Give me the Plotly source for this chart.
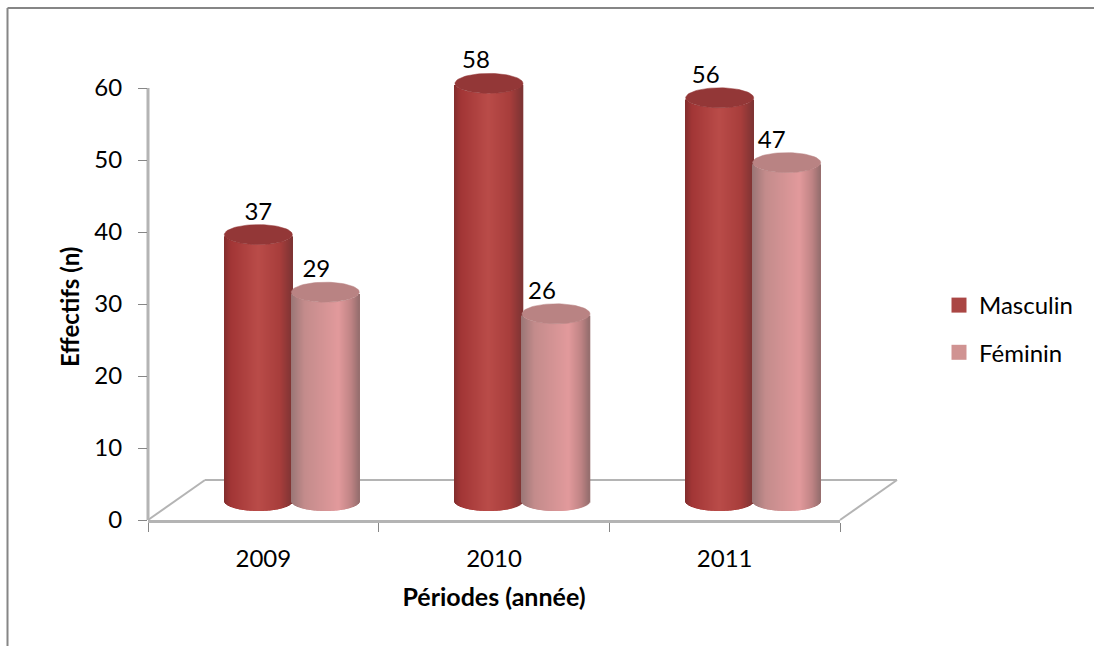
import numpy as np
import plotly.graph_objects as go

# Headcount per year and sex
years = [2009, 2010, 2011]
masculin = [37, 58, 56]
feminin = [29, 26, 47]
y_ticks = [0, 10, 20, 30, 40, 50, 60]

WIDTH, HEIGHT = 1094, 646
LEFT, RIGHT, AXIS_TOP, BOTTOM = 148, 840, 88, 520
Y_MAX = 70                         # room above the last tick for tall cylinders and labels
PX_X = (RIGHT - LEFT) / 3          # pixels per year
PX_Y = (BOTTOM - AXIS_TOP) / 60    # pixels per headcount unit
PLOT_TOP = BOTTOM - Y_MAX * PX_Y
FONT = "Lato"

# Floor depth of the 3D box, and cylinder geometry, in axis units
DEPTH_X = 57 / PX_X
DEPTH_Y = 40 / PX_Y
RX = 34 / PX_X
RY = 10 / PX_Y
BASE = 19 / PX_Y
SHIFT = 33.5 / PX_X
N_STRIPS = 68

# Horizontal shading across a cylinder: (position, rgb)
SHADE_M = [(0, (130, 46, 46)), (0.1, (162, 54, 54)), (0.5, (186, 76, 73)),
           (0.82, (168, 62, 60)), (1, (126, 52, 52))]
SHADE_F = [(0, (154, 118, 118)), (0.2, (196, 140, 140)), (0.7, (226, 154, 156)),
           (0.88, (192, 132, 133)), (1, (150, 110, 110))]
TOP_M, TOP_F = "#933737", "#b98383"


def shade(stops, t):
    pos = [s[0] for s in stops]
    rgb = [int(np.interp(t, pos, [s[1][i] for s in stops])) for i in range(3)]
    return f"rgb({rgb[0]},{rgb[1]},{rgb[2]})"


def cylinder_bars(name, values, dx, stops):
    """One bar per vertical strip; the strip base follows the front of the ellipse."""
    xs, ys, bases, colors = [], [], [], []
    for year, v in zip(years, values):
        for k in range(N_STRIPS):
            t = (k + 0.5) / N_STRIPS
            xs.append(year + DEPTH_X / 2 + dx + RX * (2 * t - 1))
            ys.append(v)
            bases.append(BASE - RY * np.sqrt(1 - (2 * t - 1) ** 2))
            colors.append(shade(stops, t))
    return go.Bar(x=xs, y=ys, base=bases, width=1.6 * 2 * RX / N_STRIPS, name=name,
                  marker=dict(color=colors, line=dict(width=0)),
                  showlegend=False, hoverinfo="skip")


def cylinder_top(year, v, dx, color):
    a = np.linspace(0, 2 * np.pi, 73)
    cx = year + DEPTH_X / 2 + dx
    return go.Scatter(x=cx + RX * np.cos(a), y=BASE + v + RY * np.sin(a), mode="lines",
                      fill="toself", fillcolor=color, line=dict(color=color, width=0.5),
                      showlegend=False, hoverinfo="skip")


fig = go.Figure()
fig.add_trace(cylinder_bars("Masculin", masculin, -SHIFT, SHADE_M))
fig.add_trace(cylinder_bars("Féminin", feminin, SHIFT, SHADE_F))
for year, m, f in zip(years, masculin, feminin):
    fig.add_trace(cylinder_top(year, m, -SHIFT, TOP_M))
    fig.add_trace(cylinder_top(year, f, SHIFT, TOP_F))

# Value labels sit above each cylinder, nudged left in pixels
label_nudge_m = [0, -13, -14]
label_nudge_f = [-9, -14, -15]
for values, dx, nudge in ((masculin, -SHIFT, label_nudge_m), (feminin, SHIFT, label_nudge_f)):
    fig.add_trace(go.Scatter(
        x=[yr + DEPTH_X / 2 + dx + n / PX_X for yr, n in zip(years, nudge)],
        y=[BASE + v + 21 / PX_Y for v in values],
        text=[str(v) for v in values], mode="text",
        textfont=dict(family=FONT, size=24, color="#000000"),
        showlegend=False, hoverinfo="skip"))

# Legend entries
fig.add_trace(go.Scatter(x=[None], y=[None], mode="markers", name="Masculin", legendgroup="m",
                         marker=dict(symbol="square", size=15, color="#AA4644")))
fig.add_trace(go.Scatter(x=[None], y=[None], mode="markers", name="Féminin", legendgroup="f",
                         marker=dict(symbol="square", size=15, color="#D09392")))


def px_x(p):
    return (p - LEFT) / (RIGHT - LEFT)


def px_y(p):
    return (BOTTOM - p) / (BOTTOM - PLOT_TOP)


# Floor outline, value axis and chart frame, in paper coordinates so they can leave the plot area
GRID = "#b4b4b4"
FRAME = "#868686"
BACK_Y = BOTTOM - 40
floor = [
    (LEFT, BOTTOM, LEFT + 57, BACK_Y),
    (LEFT + 57, BACK_Y, RIGHT + 57, BACK_Y),
    (RIGHT, BOTTOM, RIGHT + 57, BACK_Y),
]
shapes = [dict(type="line", xref="paper", yref="paper", layer="below",
               x0=px_x(a), y0=px_y(b), x1=px_x(c), y1=px_y(d), line=dict(color=GRID, width=2))
          for a, b, c, d in floor]
shapes.append(dict(type="line", xref="paper", yref="paper", layer="below",
                   x0=px_x(LEFT), x1=px_x(LEFT), y0=px_y(AXIS_TOP), y1=px_y(BOTTOM),
                   line=dict(color=GRID, width=3)))
shapes.append(dict(type="line", xref="paper", yref="paper", x0=px_x(7.5), x1=px_x(WIDTH),
                   y0=px_y(8), y1=px_y(8), line=dict(color=FRAME, width=2)))
shapes.append(dict(type="line", xref="paper", yref="paper", x0=px_x(7.5), x1=px_x(7.5),
                   y0=px_y(8), y1=px_y(HEIGHT), line=dict(color=FRAME, width=2)))

fig.update_layout(
    width=WIDTH, height=HEIGHT, autosize=False,
    margin=dict(l=LEFT, r=WIDTH - RIGHT, t=PLOT_TOP, b=HEIGHT - BOTTOM),
    paper_bgcolor="#ffffff", plot_bgcolor="rgba(0,0,0,0)",
    barmode="overlay", shapes=shapes,
    font=dict(family=FONT, size=24, color="#000000"),
    xaxis=dict(
        range=[years[0] - 0.5, years[-1] + 0.5], tickvals=years, ticktext=[str(y) for y in years],
        ticks="", showgrid=False, zeroline=False, showline=True, linecolor=GRID, linewidth=3,
        ticklabelstandoff=15,
        minor=dict(tickvals=[y - 0.5 for y in years] + [years[-1] + 0.5], ticks="outside",
                   ticklen=9, tickcolor=FRAME, tickwidth=1, showgrid=False),
        title=dict(text="<b>Périodes (année)</b>", standoff=18, font=dict(family=FONT, size=25)),
    ),
    yaxis=dict(
        range=[0, Y_MAX], tickvals=y_ticks, ticks="outside", ticklen=9, tickcolor=FRAME, tickwidth=1,
        showgrid=False, zeroline=False, showline=False, ticklabelstandoff=11,
    ),
    annotations=[dict(text="<b>Effectifs (n)</b>", textangle=-90, showarrow=False,
                      xref="paper", yref="paper", x=px_x(69), y=px_y(307),
                      xanchor="center", yanchor="middle", font=dict(family=FONT, size=24))],
    legend=dict(x=px_x(939), y=px_y(283), xanchor="left", yanchor="top",
                traceorder="grouped", tracegroupgap=13, font=dict(family=FONT, size=24),
                bgcolor="rgba(0,0,0,0)"),
)

fig.write_html("out.html")
